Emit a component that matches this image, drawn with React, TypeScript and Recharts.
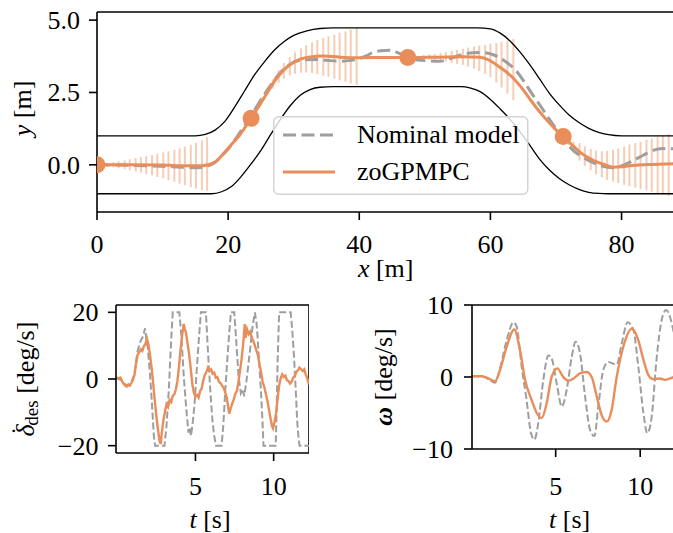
import React from 'react';
import { ComposedChart, Line, Scatter, ErrorBar, XAxis, YAxis, ReferenceLine, Legend } from 'recharts';

const FONT = '"Liberation Serif", "Times New Roman", serif';
const ORANGE = '#e98e5a';
const GRAY = '#9e9e9e';

// ---------- top panel: track and path, x [m] / y [m] ----------
const upperX = [0, 15, 16.5, 18, 19.5, 21, 22.5, 24, 25.5, 27, 28.5, 30, 32, 34, 36, 58, 60, 61.5, 63, 64.5, 66, 67.5, 69, 70.5, 72, 73.5, 75, 76.5, 78, 80, 88];
const upperY = [1.0, 1.0, 1.05, 1.2, 1.5, 2.0, 2.55, 3.1, 3.55, 3.95, 4.25, 4.47, 4.63, 4.71, 4.73, 4.73, 4.7, 4.55, 4.28, 3.9, 3.46, 2.97, 2.47, 2.07, 1.72, 1.46, 1.26, 1.12, 1.04, 1.0, 1.0];
const lowerX = [0, 17.5, 19, 20.5, 22, 23.5, 25, 26.5, 28, 29.5, 31, 32.5, 34, 36, 55.5, 57, 58.5, 60, 61.5, 63, 64.5, 66, 67.5, 69, 70.5, 72, 73.5, 75, 76.5, 78, 88];
const lowerY = [-1.0, -1.0, -0.93, -0.75, -0.4, 0.03, 0.5, 1.05, 1.58, 2.05, 2.4, 2.6, 2.68, 2.7, 2.7, 2.65, 2.52, 2.26, 1.93, 1.57, 1.15, 0.68, 0.2, -0.18, -0.47, -0.69, -0.85, -0.95, -0.99, -1.0, -1.0];

const nominalX = [0, 5, 10, 13, 15.5, 16.7, 17.7, 19, 20.3, 21.5, 22.8, 24.1, 25.4, 26.7, 27.9, 29.2, 30.4, 32, 33.5, 35, 37, 38.5, 39.6, 41, 42.1, 43.3, 44.7, 46, 47.5, 50, 52.3, 54, 55.8, 57.5, 58.9, 60.2, 61.4, 62.7, 64, 65.2, 66.5, 67.8, 69, 70.3, 71.6, 72.9, 74.1, 75.4, 76.7, 77.7, 78.7, 80.2, 81.8, 83.3, 84.8, 86.3, 88];
const nominalY = [0, -0.02, -0.05, -0.08, -0.1, -0.05, 0.04, 0.3, 0.63, 1.02, 1.45, 1.92, 2.39, 2.82, 3.17, 3.43, 3.58, 3.63, 3.64, 3.61, 3.58, 3.6, 3.64, 3.76, 3.88, 3.94, 3.96, 3.86, 3.7, 3.6, 3.58, 3.68, 3.82, 3.87, 3.88, 3.82, 3.7, 3.5, 3.23, 2.85, 2.4, 1.98, 1.57, 1.15, 0.74, 0.45, 0.27, 0.1, -0.02, -0.08, -0.1, -0.02, 0.15, 0.33, 0.5, 0.56, 0.55];

const zoX = [0, 5, 10, 14, 16, 18, 19.3, 20.5, 21.8, 23.5, 25.4, 27.4, 29.4, 31, 32.5, 34.5, 37, 40, 44, 47.5, 52, 56, 58.4, 59.7, 60.9, 62.2, 63.5, 64.8, 66, 67.2, 68.5, 69.8, 71.1, 72.4, 73.6, 74.9, 76.2, 77.5, 78.7, 80, 81.2, 84, 88];
const zoY = [0, 0, -0.01, -0.03, -0.03, 0.1, 0.39, 0.7, 1.04, 1.61, 2.28, 2.99, 3.46, 3.65, 3.73, 3.76, 3.72, 3.7, 3.71, 3.71, 3.72, 3.73, 3.72, 3.63, 3.46, 3.25, 2.99, 2.65, 2.28, 1.92, 1.57, 1.25, 0.98, 0.7, 0.45, 0.25, 0.1, 0.0, -0.08, -0.07, -0.03, 0.01, 0.04];

// points where a new prediction starts
const startX = [0, 23.5, 47.4, 71.1];
const startY = [0, 1.61, 3.71, 0.98];

// predicted uncertainty (centre and half-width) along each horizon
const bandX = [
  0.8, 1.6, 2.5, 3.3, 4.2, 5.0, 5.9, 6.7, 7.5, 8.4, 9.2, 10.1, 10.9, 11.8, 12.6, 13.4, 14.3, 15.1, 16.0, 16.8,
  24.3, 25.1, 26.0, 26.8, 27.7, 28.5, 29.4, 30.2, 31.1, 31.9, 32.8, 33.6, 34.5, 35.3, 36.2, 37.0, 37.9, 38.7, 39.6,
  48.1, 49.0, 49.8, 50.7, 51.5, 52.4, 53.2, 54.1, 54.9, 55.8, 56.6, 57.5, 58.3, 59.2, 60.0, 60.9, 61.7, 62.6, 63.5,
  71.9, 72.7, 73.6, 74.4, 75.3, 76.1, 77.0, 77.8, 78.7, 79.5, 80.4, 81.2, 82.1, 82.9, 83.8, 84.6, 85.5, 86.3, 87.2, 88.0,
];
const bandMid = [
  0, 0, 0, 0, 0, 0, 0, 0, -0.01, -0.01, -0.02, -0.02, -0.03, -0.03, -0.04, -0.04, -0.04, -0.03, -0.02, 0.03,
  1.95, 2.25, 2.55, 2.8, 3.05, 3.25, 3.4, 3.52, 3.6, 3.66, 3.7, 3.72, 3.73, 3.74, 3.74, 3.74, 3.74, 3.74, 3.74,
  3.71, 3.71, 3.72, 3.72, 3.72, 3.73, 3.73, 3.73, 3.73, 3.73, 3.72, 3.7, 3.68, 3.64, 3.6, 3.53, 3.46, 3.38, 3.29,
  0.8, 0.6, 0.45, 0.3, 0.18, 0.08, 0.02, -0.02, -0.03, -0.03, -0.03, -0.02, -0.02, -0.02, -0.01, -0.01, 0, 0, 0, 0,
];
const bandHalf = [
  0.03, 0.06, 0.09, 0.12, 0.15, 0.19, 0.23, 0.27, 0.31, 0.35, 0.4, 0.45, 0.5, 0.55, 0.61, 0.67, 0.73, 0.79, 0.86, 0.93,
  0.04, 0.08, 0.12, 0.17, 0.22, 0.27, 0.32, 0.37, 0.42, 0.47, 0.53, 0.59, 0.65, 0.7, 0.76, 0.82, 0.87, 0.93, 0.98,
  0.03, 0.05, 0.07, 0.09, 0.11, 0.14, 0.17, 0.2, 0.24, 0.28, 0.33, 0.38, 0.44, 0.5, 0.58, 0.68, 0.79, 0.92, 1.06,
  0.12, 0.2, 0.3, 0.34, 0.37, 0.41, 0.45, 0.5, 0.55, 0.6, 0.66, 0.72, 0.77, 0.82, 0.87, 0.92, 0.97, 1.02, 1.07, 1.1,
];

const topXTicks = [0, 20, 40, 60, 80];
const topYTicks = [0, 2.5, 5];

// ---------- bottom left: steering rate ----------
const dzoT = [-0.08, 0.1, 0.2, 0.3, 0.4, 0.5, 0.6, 0.7, 0.8, 0.9, 1.0, 1.1, 1.2, 1.3, 1.4, 1.5, 1.6, 1.7, 1.8, 1.9, 2.0, 2.1, 2.2, 2.3, 2.4, 2.5, 2.6, 2.7, 2.78, 2.85, 2.95, 3.05, 3.15, 3.25, 3.35, 3.45, 3.55, 3.65, 3.75, 3.85, 3.95, 4.05, 4.15, 4.25, 4.32, 4.4, 4.5, 4.6, 4.7, 4.8, 4.9, 5.0, 5.1, 5.2, 5.3, 5.4, 5.5, 5.6, 5.7, 5.8, 5.9, 6.0, 6.1, 6.2, 6.3, 6.4, 6.5, 6.6, 6.7, 6.8, 6.9, 7.0, 7.08, 7.16, 7.25, 7.35, 7.45, 7.55, 7.65, 7.75, 7.85, 7.95, 8.05, 8.15, 8.2, 8.3, 8.4, 8.5, 8.6, 8.7, 8.8, 8.9, 9.0, 9.1, 9.2, 9.3, 9.4, 9.5, 9.6, 9.7, 9.8, 9.9, 9.96, 10.05, 10.15, 10.25, 10.35, 10.45, 10.55, 10.65, 10.75, 10.85, 10.95, 11.05, 11.15, 11.25, 11.35, 11.45, 11.55, 11.65, 11.75, 11.85, 11.95, 12.05, 12.15, 12.26];
const dzoV = [0.5, 0.2, 0.4, -0.6, -1.4, -1.9, -2.3, -1.8, -2.0, -1.2, -0.3, 1.2, 4.5, 7.2, 8.0, 8.9, 8.4, 9.8, 10.5, 12.1, 10.2, 7.0, 3.2, -1.5, -6.5, -11.2, -15.0, -18.5, -19.5, -16.0, -12.4, -9.8, -7.6, -8.4, -6.3, -6.9, -5.0, -4.6, -3.1, -0.5, 3.8, 8.9, 13.2, 16.5, 15.0, 13.8, 10.5, 7.2, 3.1, -1.5, -4.2, -5.3, -4.8, -5.6, -3.6, -2.8, -0.4, 1.2, 2.1, 3.4, 2.6, 2.9, 1.6, 1.9, 0.4, 0.6, -0.8, -1.2, -2.0, -2.6, -4.0, -5.5, -8.0, -10.4, -8.8, -7.4, -6.1, -4.4, -3.6, -0.8, 2.5, 6.0, 10.4, 16.5, 12.4, 14.9, 13.5, 14.2, 12.3, 11.5, 10.0, 8.5, 7.1, 4.2, 2.0, -0.9, -2.4, -4.4, -6.5, -9.2, -11.8, -14.2, -14.8, -13.0, -10.4, -6.2, -2.0, 0.2, 1.4, 0.6, 1.0, -0.4, -0.6, -1.4, -0.8, 0.4, 0.9, 2.1, 2.6, 3.4, 3.0, 2.4, 2.9, 1.4, 0.2, -1.6];
const dnomT = [-0.08, 0.3, 0.6, 0.9, 1.1, 1.3, 1.5, 1.65, 1.78, 1.88, 1.95, 2.1, 2.2, 2.34, 2.42, 3.02, 3.15, 3.3, 3.45, 3.55, 3.97, 4.1, 4.25, 4.4, 4.55, 4.62, 4.72, 4.85, 4.95, 5.1, 5.25, 5.35, 5.67, 5.78, 5.88, 6.0, 6.1, 6.2, 6.31, 6.67, 6.78, 6.9, 7.05, 7.18, 7.27, 7.48, 7.6, 7.75, 7.9, 8.0, 8.12, 8.25, 8.35, 8.5, 8.65, 8.8, 8.9, 8.97, 9.1, 9.18, 9.28, 9.35, 10.13, 10.2, 10.25, 10.35, 11.09, 11.2, 11.3, 11.42, 11.51, 11.6, 11.66, 12.26];
const dnomV = [0.4, -0.5, -2.0, -1.0, 1.5, 8.5, 11.5, 12.8, 15.2, 11.0, 9.5, 1.0, -6.0, -17.1, -20, -20, -14, -3, 12, 20, 20, 13, 1, -8.2, -16.1, -14.5, -17.1, -12, -7, 4, 14, 20, 20, 10, 1.8, -7, -13.1, -17, -20, -20, -14, -4, 6.8, 15, 20, 20, 12, 1, -4.2, -3, -5.2, -1, 3, 9, 15.7, 20, 17, 12.7, 3, -3.2, -12, -20, -20, -8, 5, 20, 20, 14, 6.8, -4, -13.1, -18, -20, -20];

// ---------- bottom right: yaw rate ----------
const wzoT = [0.05, 0.62, 1.02, 1.41, 1.71, 2.1, 2.55, 2.89, 3.19, 3.58, 3.88, 4.17, 4.47, 4.76, 5.1, 5.45, 5.75, 6.05, 6.44, 6.83, 7.13, 7.43, 7.72, 8.02, 8.31, 8.61, 9.0, 9.5, 9.89, 10.19, 10.48, 10.78, 11.17, 11.47, 11.77, 12.0];
const wzoV = [0.1, 0.1, -0.2, -0.6, 1.0, 4.2, 6.6, 3.7, -0.4, -3.2, -5.0, -5.7, -3.6, 0, 1.2, 0, -0.5, -0.2, 0.5, 0.7, 0, -2.7, -5.3, -6.2, -4.6, 0, 4.2, 6.7, 5.1, 2.4, 0.3, -0.3, -0.2, -0.4, -0.2, 0];
const wnomT = [0.05, 0.62, 1.02, 1.41, 1.71, 2.1, 2.5, 2.69, 2.99, 3.28, 3.54, 3.74, 3.97, 4.27, 4.57, 4.76, 5.06, 5.36, 5.65, 5.95, 6.18, 6.44, 6.74, 7.03, 7.29, 7.52, 7.82, 8.12, 8.61, 8.91, 9.26, 9.6, 9.89, 10.19, 10.42, 10.68, 10.98, 11.27, 11.53, 11.77, 12.0];
const wnomV = [0.1, 0.1, -0.3, -0.8, 1.2, 5.1, 7.6, 7.0, 1.4, -3.2, -7.8, -8.7, -6.4, -0.4, 3.0, 2.6, -0.9, -4.1, -1.8, 2.8, 4.9, 3.3, -2.7, -7.3, -8.2, -4.1, 1.0, 2.1, 1.7, 4.7, 7.6, 6.5, 1.4, -5.0, -7.8, -5.5, 2.8, 7.9, 9.3, 8.3, 6.0];

const zip = (xs: number[], ys: number[]) => xs.map((x, i) => ({ x, y: ys[i] }));
const upperData = zip(upperX, upperY);
const lowerData = zip(lowerX, lowerY);
const nominalData = zip(nominalX, nominalY);
const zoData = zip(zoX, zoY);
const startData = zip(startX, startY);
const bandData = bandX.map((x, i) => ({ x, y: bandMid[i], err: bandHalf[i] }));
const dzoData = zip(dzoT, dzoV);
const dnomData = zip(dnomT, dnomV);
const wzoData = zip(wzoT, wzoV);
const wnomData = zip(wnomT, wnomV);

const axisLine = { stroke: '#000', strokeWidth: 1.6 };
const tickLine = { stroke: '#000', strokeWidth: 1.6 };
const minusFmt = (v: number) => (v < 0 ? '\u2212' + Math.abs(v) : String(v));

// tick renderers (tickMargin is 0, so x/y sit at the end of the tick line)
const xTick = (down: number) => (p: any) => (
  <text x={p.x} y={p.y + down} textAnchor="middle" fontFamily={FONT} fontSize={26} fill="#000">
    {String(p.payload.value)}
  </text>
);
const yTick = (gap: number, fmt: (v: number) => string) => (p: any) => (
  <text x={p.x - gap} y={p.y + 9} textAnchor="end" fontFamily={FONT} fontSize={26} fill="#000">
    {fmt(p.payload.value)}
  </text>
);

const hTitle = (cx: number, y: number, sym: string, unit: string) => () => (
  <text x={cx} y={y} textAnchor="middle" fontFamily={FONT} fontSize={26} fill="#000">
    <tspan fontStyle="italic">{sym}</tspan>
    <tspan> [{unit}]</tspan>
  </text>
);

const vTitle = (cx: number, cy: number, body: React.ReactNode) => () => (
  <text x={cx} y={cy} transform={`rotate(-90 ${cx} ${cy})`} textAnchor="middle" dominantBaseline="central" fontFamily={FONT} fontSize={26} fill="#000">
    {body}
  </text>
);

function LegendBox() {
  return (
    <svg width={256} height={80} style={{ display: 'block' }}>
      <rect x={0.75} y={0.75} width={254} height={77.5} rx={5} fill="#fff" fillOpacity={0.8} stroke="#d4d4d4" strokeWidth={1.5} />
      <line x1={10} x2={60} y1={19} y2={19} stroke={GRAY} strokeWidth={3} strokeDasharray="13 5.5" />
      <text x={84} y={27} fontFamily={FONT} fontSize={26} fill="#000">Nominal model</text>
      <line x1={10} x2={62} y1={56} y2={56} stroke={ORANGE} strokeWidth={3} />
      <text x={84} y={64} fontFamily={FONT} fontSize={26} fill="#000">zoGPMPC</text>
    </svg>
  );
}

function TopPanel() {
  return (
    <ComposedChart width={674} height={290} margin={{ top: 12, right: 0, bottom: 0, left: 0 }}>
      <XAxis dataKey="x" type="number" domain={[0, 88]} allowDataOverflow ticks={topXTicks} tick={xTick(33)}
        axisLine={axisLine} tickLine={tickLine} tickSize={8} tickMargin={0} height={78}
        label={{ content: hTitle(385.7, 277, 'x', 'm') }} />
      <YAxis type="number" domain={[-1.63, 5.28]} allowDataOverflow ticks={topYTicks}
        tick={yTick(9, (v) => v.toFixed(1))} axisLine={axisLine} tickLine={tickLine} tickSize={8} tickMargin={0} width={97}
        label={{ content: vTitle(22, 108.5, <><tspan fontStyle="italic">y</tspan><tspan> [m]</tspan></>) }} />
      <ReferenceLine y={5.28} stroke="#000" strokeWidth={1.6} />
      <Scatter data={bandData} dataKey="y" shape={() => null} isAnimationActive={false}>
        <ErrorBar dataKey="err" direction="y" width={0} stroke={ORANGE} strokeOpacity={0.45} strokeWidth={2} isAnimationActive={false} />
      </Scatter>
      <Line data={upperData} dataKey="y" type="monotone" stroke="#000" strokeWidth={1.3} dot={false} isAnimationActive={false} />
      <Line data={lowerData} dataKey="y" type="monotone" stroke="#000" strokeWidth={1.3} dot={false} isAnimationActive={false} />
      <Line data={nominalData} dataKey="y" name="Nominal model" type="monotone" stroke={GRAY} strokeWidth={3} strokeDasharray="13 5.5" dot={false} isAnimationActive={false} />
      <Line data={zoData} dataKey="y" name="zoGPMPC" type="monotone" stroke={ORANGE} strokeWidth={3} dot={false} isAnimationActive={false} />
      <Scatter data={startData} dataKey="y" isAnimationActive={false}
        shape={(p: any) => <circle cx={p.cx} cy={p.cy} r={8.5} fill={ORANGE} />} />
      <Legend verticalAlign="middle" align="center" layout="horizontal"
        wrapperStyle={{ left: 273, top: 116, width: 256, height: 80 }} content={() => <LegendBox />} />
    </ComposedChart>
  );
}

const deltaTitle = (
  <>
    <tspan fontStyle="italic">{'\u03B4'}</tspan>
    <tspan dx={-11} dy={-5}>{'\u02D9'}</tspan>
    <tspan dx={1} dy={11} fontSize={19}>des</tspan>
    <tspan dy={-6}> [deg/s]</tspan>
  </>
);

function RatePanel() {
  return (
    <ComposedChart width={309} height={533} margin={{ top: 305, right: 0, bottom: 0, left: 0 }}>
      <XAxis dataKey="x" type="number" domain={[-0.08, 12.26]} allowDataOverflow ticks={[5, 10]} tick={xTick(33.5)}
        axisLine={axisLine} tickLine={tickLine} tickSize={8} tickMargin={0} height={80}
        label={{ content: hTitle(210, 528, 't', 's') }} />
      <YAxis type="number" domain={[-22.2, 22.2]} allowDataOverflow ticks={[-20, 0, 20]}
        tick={yTick(9.5, minusFmt)} axisLine={axisLine} tickLine={tickLine} tickSize={8} tickMargin={0} width={116}
        label={{ content: vTitle(25, 379, deltaTitle) }} />
      <ReferenceLine y={22.2} stroke="#000" strokeWidth={1.6} />
      <ReferenceLine x={12.26} stroke="#000" strokeWidth={1.6} />
      <Line data={dnomData} dataKey="y" type="linear" stroke={GRAY} strokeWidth={2} strokeDasharray="7 3" dot={false} isAnimationActive={false} />
      <Line data={dzoData} dataKey="y" type="linear" stroke={ORANGE} strokeWidth={2.4} dot={false} isAnimationActive={false} />
    </ComposedChart>
  );
}

function YawPanel() {
  return (
    <ComposedChart width={674} height={533} margin={{ top: 305, right: 0, bottom: 0, left: 0 }}>
      <XAxis dataKey="x" type="number" domain={[0.05, 12.0]} allowDataOverflow ticks={[5, 10]} tick={xTick(37.5)}
        axisLine={axisLine} tickLine={tickLine} tickSize={8} tickMargin={0} height={84}
        label={{ content: hTitle(569.6, 528, 't', 's') }} />
      <YAxis type="number" domain={[-10, 10]} allowDataOverflow ticks={[-10, 0, 10]}
        tick={yTick(11, minusFmt)} axisLine={axisLine} tickLine={tickLine} tickSize={8} tickMargin={0} width={472}
        label={{ content: vTitle(383, 377, <><tspan fontStyle="italic" fontWeight="bold">{'\u03C9'}</tspan><tspan> [deg/s]</tspan></>) }} />
      <ReferenceLine y={10} stroke="#000" strokeWidth={1.6} />
      <Line data={wnomData} dataKey="y" type="monotone" stroke={GRAY} strokeWidth={2} strokeDasharray="7 3" dot={false} isAnimationActive={false} />
      <Line data={wzoData} dataKey="y" type="monotone" stroke={ORANGE} strokeWidth={2.4} dot={false} isAnimationActive={false} />
    </ComposedChart>
  );
}

const layer: React.CSSProperties = { position: 'absolute', left: 0, top: 0 };

export default function App() {
  return (
    <div style={{ position: 'absolute', left: 0, top: 0, width: 673, height: 533, overflow: 'hidden', background: '#fff', fontFamily: FONT }}>
      <div style={layer}><YawPanel /></div>
      <div style={layer}><RatePanel /></div>
      <div style={layer}><TopPanel /></div>
    </div>
  );
}
